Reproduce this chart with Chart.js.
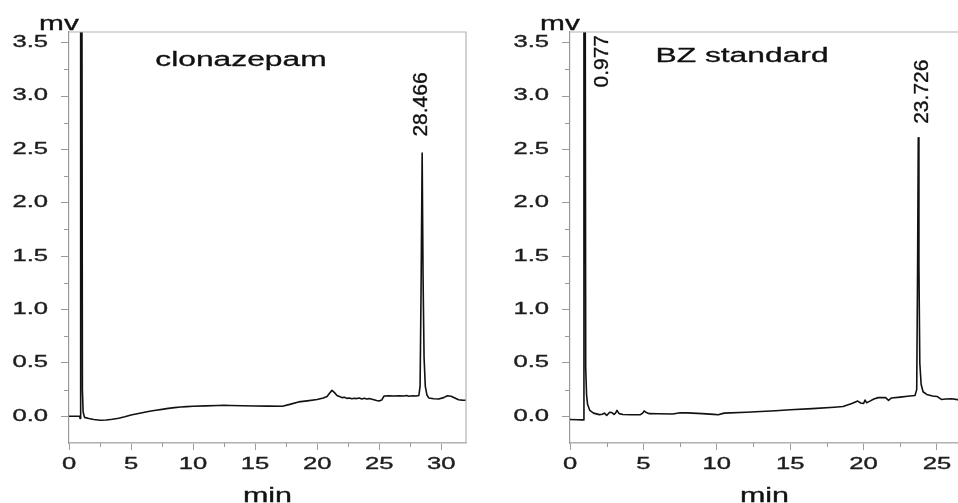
<!DOCTYPE html>
<html><head><meta charset="utf-8">
<script src="https://cdn.jsdelivr.net/npm/chart.js@4"></script>
<style>
html,body{margin:0;padding:0;background:#fff;overflow:hidden;width:958px;height:503px}
#p1{position:absolute;left:0;top:0;width:480px;height:503px}
#p2{position:absolute;left:480px;top:0;width:500px;height:503px}
</style></head><body>
<div id="p1"><canvas id="c1"></canvas></div>
<div id="p2"><canvas id="c2"></canvas></div>
<script>
// ---- data ----
const clonaTime = [0,0.5,0.85,0.9,0.94,1.0,1.08,1.14,1.25,1.6,2.0,2.5,3.0,3.5,4.0,4.5,5.0,5.5,6.0,6.5,7.0,7.5,8.0,8.5,9.0,9.5,10.0,11.0,12.0,12.5,13.0,14.0,15.0,16.0,17.2,17.8,18.5,19.2,20.0,20.5,20.8,21.0,21.2,21.4,21.6,21.8,22.0,22.2,22.4,22.6,22.8,23.0,23.2,23.4,23.6,23.8,24.0,24.2,24.5,24.8,25.0,25.2,25.4,25.8,26.2,26.6,27.0,27.2,27.4,27.7,28.0,28.2,28.3,28.38,28.466,28.54,28.62,28.72,28.85,29.0,29.4,29.8,30.2,30.5,30.8,31.1,31.4,31.7,32.0];
const clonaSignal = [0,0,0,-0.02,8.0,8.0,0.25,0.04,-0.01,-0.02,-0.03,-0.037,-0.035,-0.028,-0.018,-0.004,0.012,0.024,0.036,0.048,0.057,0.065,0.074,0.081,0.087,0.091,0.094,0.098,0.101,0.102,0.101,0.099,0.097,0.095,0.094,0.112,0.135,0.145,0.157,0.172,0.185,0.215,0.243,0.222,0.195,0.185,0.175,0.178,0.168,0.172,0.165,0.17,0.166,0.172,0.163,0.17,0.162,0.166,0.158,0.148,0.143,0.152,0.19,0.192,0.19,0.193,0.19,0.195,0.188,0.193,0.19,0.195,0.28,1.2,2.465,1.3,0.55,0.28,0.2,0.172,0.165,0.162,0.175,0.192,0.188,0.172,0.155,0.152,0.15];

const bzTime = [0,0.5,0.85,0.9,0.95,1.0,1.07,1.13,1.2,1.35,1.6,2.0,2.2,2.35,2.5,2.7,2.85,3.0,3.1,3.2,3.35,3.6,4.2,4.8,4.95,5.05,5.2,5.4,6.0,7.0,7.5,8.0,9.0,9.8,10.1,10.5,12.0,14.0,15.0,16.5,18.0,18.6,19.2,19.6,19.8,20.0,20.1,20.2,20.4,20.7,21.0,21.5,21.7,21.9,22.5,23.0,23.5,23.62,23.68,23.726,23.77,23.83,23.92,24.05,24.3,24.7,25.0,25.3,25.6,26.0,26.6];
const bzSignal = [-0.03,-0.032,-0.033,-0.035,8.0,8.0,0.45,0.2,0.11,0.055,0.03,0.016,0.02,0.03,0.008,0.038,0.035,0.018,0.03,0.055,0.025,0.017,0.015,0.015,0.03,0.05,0.035,0.025,0.024,0.022,0.033,0.032,0.025,0.018,0.015,0.03,0.038,0.052,0.062,0.072,0.085,0.092,0.12,0.143,0.125,0.12,0.152,0.128,0.14,0.162,0.175,0.175,0.15,0.172,0.18,0.188,0.195,0.25,1.4,2.61,1.4,0.5,0.3,0.23,0.205,0.19,0.186,0.158,0.162,0.165,0.152];

const yTickValues = [0,0.5,1,1.5,2,2.5,3,3.5];
const yTickLabels = ['0.0','0.5','1.0','1.5','2.0','2.5','3.0','3.5'];
const clonaXTicks = [0,5,10,15,20,25,30];
const bzXTicks = [0,5,10,15,20,25];
const clonaPeakTimes = [28.466];
const clonaPeakLabelBase = [2.62];
const bzPeakTimes = [0.977, 23.726];
const bzPeakLabelBase = [3.08, 2.74];

// ---- drawing ----
const FONT = '"Liberation Sans", Arial, Helvetica, sans-serif';

function stretchText(ctx, text, x, y, sx, align, weight) {
  ctx.save();
  ctx.translate(x, y);
  ctx.scale(sx, 1);
  ctx.textAlign = align;
  ctx.fillText(text, 0, 0);
  if (weight) { ctx.lineWidth = weight; ctx.strokeStyle = ctx.fillStyle; ctx.strokeText(text, 0, 0); }
  ctx.restore();
}

const decor = {
  id: 'decor',
  afterDraw(chart, args, o) {
    const {ctx, chartArea: a, scales: {x, y}} = chart;
    ctx.save();
    // frame top & right
    ctx.strokeStyle = '#b4b4b4'; ctx.lineWidth = 1.2;
    ctx.beginPath(); ctx.moveTo(a.left, a.top); ctx.lineTo(a.right, a.top); ctx.lineTo(a.right, a.bottom); ctx.stroke();
    // minor ticks
    ctx.strokeStyle = '#9a9a9a'; ctx.lineWidth = 1;
    ctx.beginPath();
    yTickValues.forEach(v => {
      [v - 0.25, v + 0.25].forEach(m => {
        if (m > y.min && m < y.max && !yTickValues.includes(m)) {
          const py = Math.round(y.getPixelForValue(m)) + 0.5;
          ctx.moveTo(a.left - 5, py); ctx.lineTo(a.left, py);
        }
      });
    });
    o.xTicks.forEach(v => {
      const m = v + 2.5;
      if (m < x.max) {
        const px = Math.round(x.getPixelForValue(m)) + 0.5;
        ctx.moveTo(px, a.bottom); ctx.lineTo(px, a.bottom + 4);
      }
    });
    ctx.stroke();
    // tick labels
    ctx.fillStyle = '#1e1e1e';
    ctx.textBaseline = 'middle';
    ctx.font = '16px ' + FONT;
    yTickValues.forEach((v, i) => stretchText(ctx, yTickLabels[i], a.left - 21, y.getPixelForValue(v), 1.6, 'right', 0.35));
    o.xTicks.forEach(v => stretchText(ctx, String(v), x.getPixelForValue(v), a.bottom + 22, 1.6, 'center', 0.35));
    // axis titles
    ctx.fillStyle = '#111';
    ctx.textBaseline = 'alphabetic';
    ctx.font = '21px ' + FONT;
    stretchText(ctx, 'mv', a.left - 10, a.top - 2, 1.42, 'center', 0.35);
    stretchText(ctx, 'min', (a.left + a.right) / 2, 502, 1.45, 'center', 0.35);
    // panel title
    ctx.font = '19.5px ' + FONT;
    stretchText(ctx, o.title, a.left + 172, o.titleBaseline, 1.63, 'center', 0.3);
    // peak retention-time labels
    ctx.font = '21px ' + FONT;
    ctx.textBaseline = 'middle';
    ctx.strokeStyle = '#111'; ctx.lineWidth = 0.35;
    o.peakTimes.forEach((t, i) => {
      ctx.save();
      ctx.translate(x.getPixelForValue(t) + o.peakDx[i], y.getPixelForValue(o.peakBase[i]));
      ctx.rotate(-Math.PI / 2);
      ctx.textAlign = 'left';
      ctx.fillText(t.toFixed(3), 0, 0);
      ctx.strokeText(t.toFixed(3), 0, 0);
      ctx.restore();
    });
    ctx.restore();
  }
};

function build(id, times, signal, cfg) {
  const pts = times.map((t, i) => ({x: t, y: signal[i]}));
  return new Chart(document.getElementById(id), {
    type: 'line',
    data: {datasets: [{data: pts, borderColor: '#111', borderWidth: 1.6, pointRadius: 0, tension: 0, fill: false, borderJoinStyle: 'round'}]},
    options: {
      responsive: true, maintainAspectRatio: false, animation: false, devicePixelRatio: 1,
      events: [],
      layout: {padding: {top: 32, right: cfg.padRight, left: 0, bottom: 0}},
      plugins: {legend: {display: false}, tooltip: {enabled: false}, decor: cfg},
      scales: {
        x: {type: 'linear', min: 0, max: cfg.xMax,
            afterFit: s => { s.height = 60; },
            ticks: {display: false, stepSize: 5, includeBounds: false},
            grid: {display: true, drawOnChartArea: false, drawTicks: true, tickLength: 7, color: '#9a9a9a', lineWidth: 1},
            border: {display: true, color: '#b0b0b0', width: 1.6}},
        y: {type: 'linear', min: -0.25, max: 3.6,
            afterFit: s => { s.width = cfg.axisLeft; },
            ticks: {display: false, stepSize: 0.5, includeBounds: false},
            grid: {display: true, drawOnChartArea: false, drawTicks: true, tickLength: 8, color: '#9a9a9a', lineWidth: 1},
            border: {display: true, color: '#999', width: 1.2}}
      }
    },
    plugins: [decor]
  });
}

build('c1', clonaTime, clonaSignal, {
  xMax: 32, padRight: 14, axisLeft: 69, xTicks: clonaXTicks,
  title: 'clonazepam', titleBaseline: 66,
  peakTimes: clonaPeakTimes, peakBase: clonaPeakLabelBase, peakDx: [-1]
});
build('c2', bzTime, bzSignal, {
  xMax: 26.5, padRight: 21, axisLeft: 90, xTicks: bzXTicks,
  title: 'BZ standard', titleBaseline: 62,
  peakTimes: bzPeakTimes, peakBase: bzPeakLabelBase, peakDx: [18, 3.5]
});
</script>
</body></html>
